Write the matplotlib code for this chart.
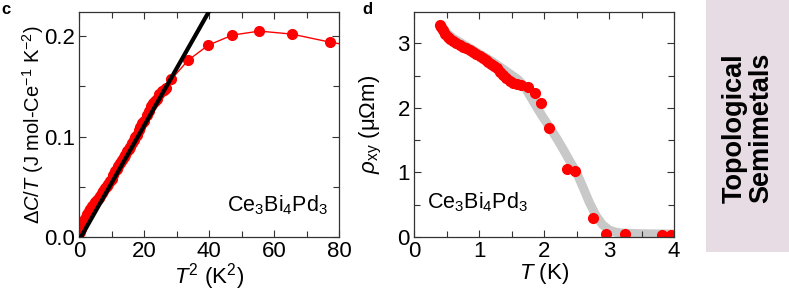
"""Ce3Bi4Pd3: specific heat and Hall resistivity panels."""

import matplotlib

matplotlib.use("Agg")
import matplotlib.pyplot as plt
from matplotlib.patches import Rectangle
from matplotlib.ticker import MultipleLocator

plt.rcParams["font.family"] = ["Liberation Sans", "DejaVu Sans"]
plt.rcParams["mathtext.fontset"] = "custom"
plt.rcParams["mathtext.rm"] = "Liberation Sans"
plt.rcParams["mathtext.it"] = "Liberation Sans:italic"
plt.rcParams["mathtext.bf"] = "Liberation Sans:bold"

# panel c: delta C / T vs T^2
c_t2 = [0.2, 0.5, 0.8, 1.2, 1.6, 2.0, 2.5, 3.0, 3.5, 4.0, 4.5, 5.0, 5.5, 6.0, 6.5,
        7.0, 7.5, 8.0, 8.5, 9.0, 9.5, 10.0, 10.6, 11.1, 11.6, 12.1, 12.6, 13.2,
        13.7, 14.2, 14.8, 15.3, 15.8, 16.3, 16.8, 17.3, 17.8, 18.4, 18.9, 19.4,
        19.9, 20.8, 21.4, 22.1, 22.7, 23.4, 24.0, 24.7, 25.4, 26.2, 26.8, 28.4,
        33.6, 39.8, 47.2, 55.5, 65.5, 77.2, 90.0]
c_dct = [0.005, 0.008, 0.011, 0.014, 0.017, 0.020, 0.023, 0.026, 0.028, 0.031,
         0.033, 0.035, 0.037, 0.039, 0.041, 0.044, 0.046, 0.049, 0.051, 0.053,
         0.056, 0.058, 0.062, 0.066, 0.068, 0.071, 0.074, 0.077, 0.080, 0.082,
         0.086, 0.088, 0.090, 0.094, 0.097, 0.100, 0.102, 0.107, 0.110, 0.113,
         0.115, 0.121, 0.125, 0.130, 0.133, 0.135, 0.137, 0.142, 0.145, 0.146,
         0.148, 0.157, 0.176, 0.191, 0.201, 0.205, 0.202, 0.194, 0.187]
fit_slope = 0.0057
fit_x0 = 0.6
fit_x = [fit_x0, 45.0]

# panel d: rho_xy vs T
d_t = [0.40, 0.42, 0.45, 0.48, 0.52, 0.56, 0.60, 0.65, 0.70, 0.75, 0.80, 0.86,
       0.91, 0.96, 1.01, 1.06, 1.10, 1.14, 1.19, 1.23, 1.28, 1.33, 1.37, 1.42,
       1.47, 1.52, 1.58, 1.65, 1.75, 1.86, 1.96, 2.08, 2.35, 2.47, 2.75, 2.96,
       3.25, 3.82, 3.96]
d_rho = [3.28, 3.25, 3.20, 3.15, 3.10, 3.06, 3.03, 3.00, 2.97, 2.95, 2.92, 2.90,
         2.87, 2.84, 2.81, 2.77, 2.74, 2.71, 2.68, 2.65, 2.61, 2.56, 2.51, 2.46,
         2.42, 2.38, 2.37, 2.35, 2.32, 2.23, 2.08, 1.69, 1.06, 1.02, 0.29, 0.04,
         0.05, 0.035, 0.035]
band_t = [0.4, 0.6, 0.8, 1.0, 1.2, 1.4, 1.6, 1.7, 1.8, 1.9, 2.0, 2.1, 2.2, 2.3,
          2.4, 2.5, 2.6, 2.7, 2.8, 2.9, 3.0, 3.1, 3.2, 3.5, 4.0]
band_rho = [3.25, 3.08, 2.96, 2.84, 2.72, 2.58, 2.44, 2.33, 2.16, 1.99, 1.83,
            1.68, 1.52, 1.35, 1.17, 1.0, 0.77, 0.53, 0.33, 0.19, 0.11, 0.075,
            0.06, 0.05, 0.045]

RED = "#ff0000"
W, H = 789, 290
TICK_FS = 16
LABEL_FS = 16

fig = plt.figure(figsize=(W / 100, H / 100), dpi=100)
ax_c = fig.add_axes([79 / W, 1 - 237 / H, 260 / W, 225 / H])
ax_d = fig.add_axes([414 / W, 1 - 237 / H, 260 / W, 225 / H])


def style(ax):
    ax.tick_params(which="both", direction="in", top=True, right=True,
                   labelsize=TICK_FS, width=0.8, color="#333333",
                   labelcolor="black", pad=3)
    ax.tick_params(which="major", length=5)
    ax.tick_params(which="minor", length=4)
    for spine in ax.spines.values():
        spine.set_linewidth(0.9)
        spine.set_color("#333333")


# panel c
ax_c.plot(fit_x, [fit_slope * (x - fit_x0) for x in fit_x], color="black", lw=3, zorder=3)
ax_c.plot(c_t2, c_dct, color=RED, lw=1, marker="o", ms=7, mec=RED, mfc=RED, zorder=2)
ax_c.set_xlim(0, 80)
ax_c.set_ylim(0, 0.224)
ax_c.xaxis.set_major_locator(MultipleLocator(20))
ax_c.xaxis.set_minor_locator(MultipleLocator(10))
ax_c.yaxis.set_major_locator(MultipleLocator(0.1))
ax_c.yaxis.set_minor_locator(MultipleLocator(0.05))
ax_c.yaxis.set_major_formatter(lambda v, p: f"{v:.1f}")
style(ax_c)
ax_c.set_xlabel(r"$T^2$ (K$^2$)", fontsize=LABEL_FS)
ax_c.xaxis.set_label_coords(0.5, -0.105)
ax_c.set_ylabel(r"$\Delta C/T$ (J mol-Ce$^{-1}$ K$^{-2}$)", fontsize=14.5)
ax_c.yaxis.set_label_coords(-0.125, 0.5)
ax_c.text(0.96, 0.09, r"Ce$_3$Bi$_4$Pd$_3$", transform=ax_c.transAxes,
          ha="right", va="bottom", fontsize=15.5)

# panel d
ax_d.plot(band_t, band_rho, color="#c8c8c8", lw=6.5, solid_capstyle="round", zorder=1)
ax_d.plot(d_t, d_rho, ls="none", marker="o", ms=7, mec=RED, mfc=RED, zorder=2)
ax_d.set_xlim(0, 4)
ax_d.set_ylim(0, 3.485)
ax_d.xaxis.set_major_locator(MultipleLocator(1))
ax_d.xaxis.set_minor_locator(MultipleLocator(0.5))
ax_d.yaxis.set_major_locator(MultipleLocator(1))
ax_d.yaxis.set_minor_locator(MultipleLocator(0.5))
style(ax_d)
ax_d.set_xlabel(r"$T$ (K)", fontsize=LABEL_FS)
ax_d.xaxis.set_label_coords(0.5, -0.105)
ax_d.set_ylabel(r"$\rho_{\rm xy}$ (μΩm)", fontsize=LABEL_FS)
ax_d.yaxis.set_label_coords(-0.115, 0.5)
ax_d.text(0.05, 0.1, r"Ce$_3$Bi$_4$Pd$_3$", transform=ax_d.transAxes,
          ha="left", va="bottom", fontsize=15.5)

# panel letters
fig.text(1 / W, 1 - 10 / H, "c", fontsize=12, fontweight="bold", va="center")
fig.text(362 / W, 1 - 10 / H, "d", fontsize=12, fontweight="bold", va="center")

# side tag
fig.patches.append(Rectangle((706 / W, 1 - 252 / H), 1 - 706 / W, 252 / H,
                             transform=fig.transFigure, facecolor="#e8dce4",
                             edgecolor="none"))
fig.text(748 / W, 1 - 128 / H, "Topological\nSemimetals", rotation=90,
         ha="center", va="center", fontsize=19.5, fontweight="bold",
         linespacing=1.05, multialignment="center")

fig.savefig("out.png", dpi=100)
